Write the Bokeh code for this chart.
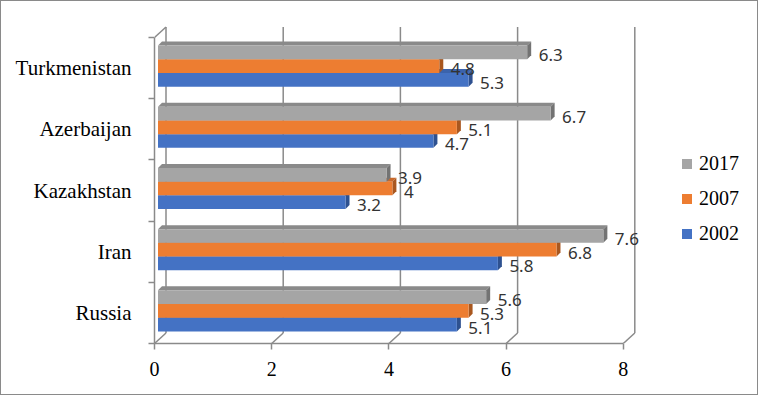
from bokeh.plotting import figure
from bokeh.models import Range1d, FixedTicker, Legend, LegendItem, ColumnDataSource
from bokeh.embed import file_html
from bokeh.resources import INLINE
from bokeh.core.properties import value

# ---- data ----
countries = ["Russia", "Iran", "Kazakhstan", "Azerbaijan", "Turkmenistan"]
years = ["2002", "2007", "2017"]
v2002 = [5.1, 5.8, 3.2, 4.7, 5.3]
v2007 = [5.3, 6.8, 4.0, 5.1, 4.8]
v2017 = [5.6, 7.6, 3.9, 6.7, 6.3]
x_ticks = [0, 2, 4, 6, 8]

series = {"2002": v2002, "2007": v2007, "2017": v2017}

# ---- styles ----
front_col = {"2002": "#4472C4", "2007": "#ED7D31", "2017": "#A5A5A5"}
top_col = {"2002": "#3B63AC", "2007": "#C9692A", "2017": "#8A8A8A"}
side_col = {"2002": "#2E5190", "2007": "#A9571F", "2017": "#737373"}
frame_col = "#8A8A8A"

W, H = 758, 395
LEFT, BOTTOM = 153, 53
PXX, PXY = 58.6, 61.2          # pixels per value unit / per category band
DX, DY = 11.5 / PXX, 10.5 / PXY   # wall depth
OX, OY = 3.5 / PXX, 2.0 / PXY     # bar front offset
BDX, BDY = 4.0 / PXX, 4.0 / PXY   # bar depth
BH = 13.7 / PXY                   # bar thickness
NCAT = len(countries)

p = figure(width=W, height=H, output_backend="svg", toolbar_location=None,
           x_range=Range1d(0, (W - LEFT) / PXX),
           y_range=Range1d(0, (H - BOTTOM) / PXY))
p.min_border = 0
p.min_border_left = LEFT
p.min_border_bottom = BOTTOM
p.min_border_right = 0
p.min_border_top = 0
p.outline_line_color = None
p.xgrid.visible = False
p.ygrid.visible = False
p.background_fill_color = "white"
p.border_fill_color = "white"
p.styles = {"border": "1px solid #8A8A8A"}

# ---- 3D walls / gridlines ----
x0s, y0s, x1s, y1s = [], [], [], []
for t in x_ticks:
    x0s.append(t + DX); y0s.append(DY); x1s.append(t + DX); y1s.append(NCAT + DY)
    x0s.append(t); y0s.append(0); x1s.append(t + DX); y1s.append(DY)
x0s.append(x_ticks[0]); y0s.append(NCAT); x1s.append(x_ticks[0] + DX); y1s.append(NCAT + DY)
p.segment(x0=x0s, y0=y0s, x1=x1s, y1=y1s, line_color=frame_col, line_width=1.5)

# ---- bars ----
for k, yr in enumerate(years):
    vals = series[yr]
    cs = [i + 0.5 + OY + (k - 1) * BH for i in range(NCAT)]
    bx0 = [OX for _ in vals]
    bx1 = [v + OX for v in vals]
    by0 = [c - BH / 2 for c in cs]
    by1 = [c + BH / 2 for c in cs]
    tops_x = [[a, b, b + BDX, a + BDX] for a, b in zip(bx0, bx1)]
    tops_y = [[t, t, t + BDY, t + BDY] for t in by1]
    sides_x = [[b, b + BDX, b + BDX, b] for b in bx1]
    sides_y = [[lo, lo + BDY, hi + BDY, hi] for lo, hi in zip(by0, by1)]
    p.patches(xs=tops_x, ys=tops_y, fill_color=top_col[yr], line_color=None)
    p.patches(xs=sides_x, ys=sides_y, fill_color=side_col[yr], line_color=None)
    p.quad(left=bx0, right=bx1, bottom=by0, top=by1, fill_color=front_col[yr], line_color=None)
    p.text(x=[v + 15 / PXX for v in vals], y=[c - 3 / PXY for c in cs],
           text=[("%g" % v) for v in vals],
           text_font=value("Noto Sans"), text_font_size="17px",
           text_color="#333333", text_baseline="middle", text_align="left")

# ---- axes ----
xa = p.xaxis[0]
xa.ticker = FixedTicker(ticks=x_ticks, minor_ticks=[])
xa.bounds = (x_ticks[0], x_ticks[-1])
xa.axis_line_color = frame_col
xa.axis_line_width = 1.5
xa.major_tick_line_color = frame_col
xa.major_tick_line_width = 1.5
xa.major_tick_out = 6
xa.major_tick_in = 0
xa.minor_tick_line_color = None
xa.major_label_standoff = 12
xa.major_label_text_font = "Liberation Serif"
xa.major_label_text_font_size = "20px"
xa.major_label_text_color = "black"

ya = p.yaxis[0]
ya.ticker = FixedTicker(ticks=[i + 0.5 for i in range(NCAT)],
                        minor_ticks=[i for i in range(NCAT + 1)])
ya.major_label_overrides = {i + 0.5: c for i, c in enumerate(countries)}
ya.bounds = (0, NCAT)
ya.axis_line_color = frame_col
ya.axis_line_width = 1.5
ya.major_tick_line_color = None
ya.major_tick_out = 0
ya.major_tick_in = 0
ya.minor_tick_line_color = frame_col
ya.minor_tick_line_width = 1.5
ya.minor_tick_out = 6
ya.minor_tick_in = 0
ya.major_label_standoff = 17
ya.major_label_text_font = "Liberation Serif"
ya.major_label_text_font_size = "21px"
ya.major_label_text_color = "black"

# ---- legend ----
dummy = ColumnDataSource(data=dict(x=[-100], y=[-100]))
leg_r = {}
for yr in years:
    leg_r[yr] = p.scatter(x="x", y="y", source=dummy, marker="square", size=10,
                          fill_color=front_col[yr], line_color=None)
legend = Legend(items=[LegendItem(label=yr, renderers=[leg_r[yr]]) for yr in reversed(years)],
                location=(520, 97), orientation="vertical",
                glyph_width=25, glyph_height=25, label_height=25, spacing=10,
                padding=0, margin=0, label_standoff=0,
                border_line_color=None, background_fill_alpha=0,
                label_text_font="Liberation Serif", label_text_font_size="20px",
                label_text_color="black")
p.add_layout(legend)

open("out.html", "w").write(file_html(p, INLINE))
